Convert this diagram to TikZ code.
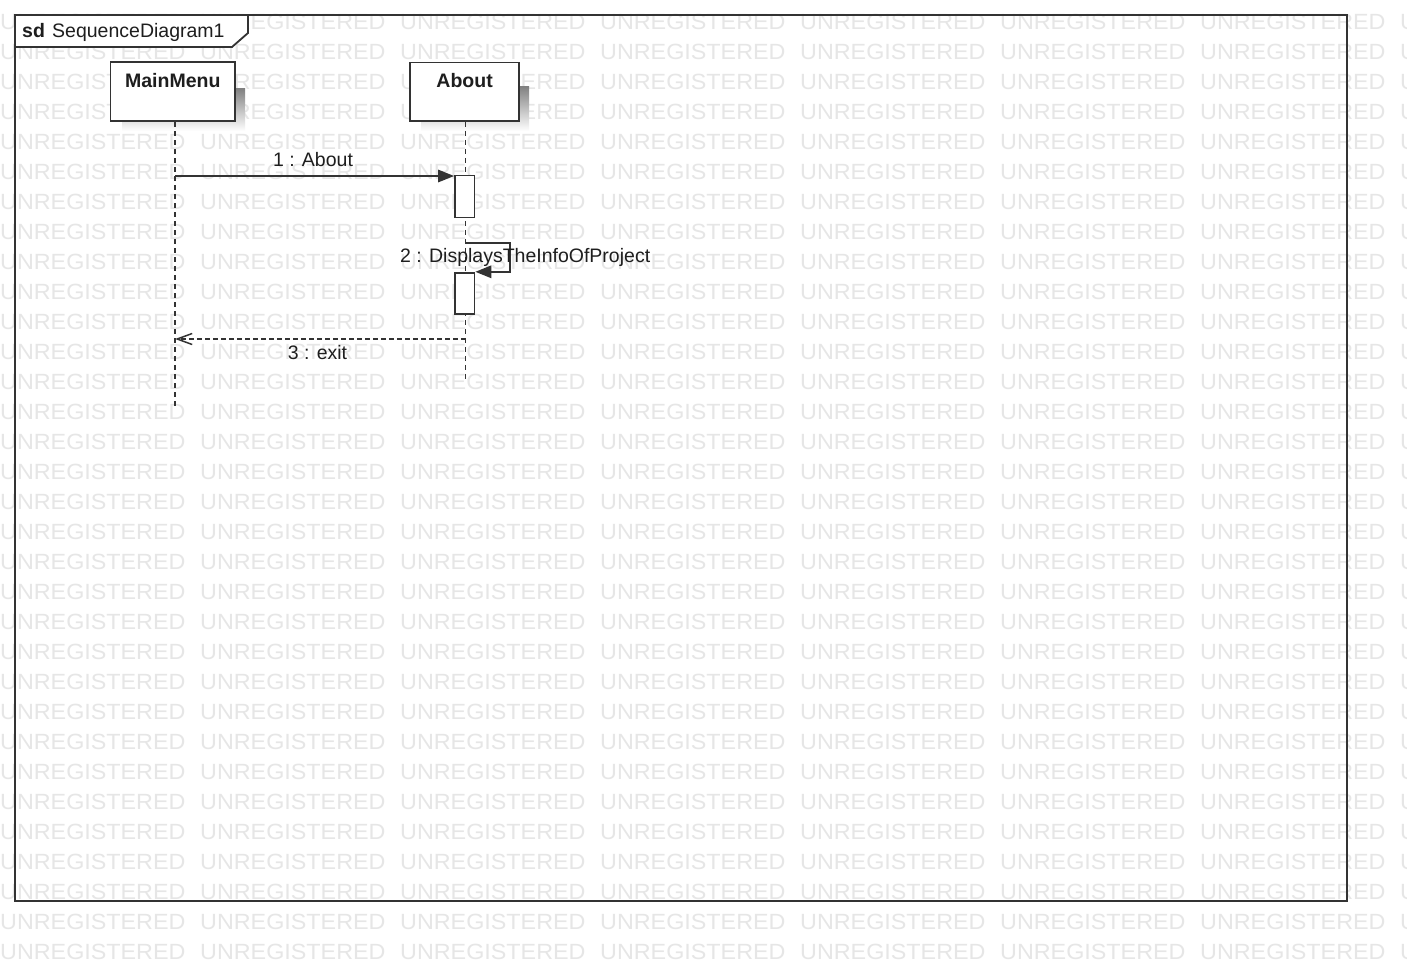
\documentclass[tikz,border=0pt]{standalone}
\usepackage{fontspec}
\usepackage{graphicx}
\setmainfont{Liberation Sans}
\usetikzlibrary{arrows.meta}

\definecolor{wmark}{HTML}{E6E6E6}
\definecolor{ink}{HTML}{333333}
\definecolor{txt}{HTML}{1E1E1E}
\definecolor{shade}{HTML}{F9F9F9}

\begin{document}
\begin{tikzpicture}[x=1pt,y=-1pt,
  wm/.style={inner sep=0pt, anchor=base west, text=wmark,
    font=\fontsize{22}{22}\selectfont},
  framebox/.style={draw=ink, line width=1.8pt},
  lifebox/.style={draw=ink, line width=1.8pt, fill=white, inner sep=0pt},
  boxtitle/.style={text=txt, font=\fontsize{19.5}{23}\selectfont\bfseries},
  lifeline/.style={draw=ink, line width=1.5pt, dash pattern=on 5pt off 4pt},
  actbox/.style={draw=ink, line width=1.8pt, fill=white, inner sep=0pt,
    minimum width=19.5pt},
  sync/.style={draw=ink, line width=1.6pt,
    -{Triangle[length=16pt, width=12.5pt]}},
  reply/.style={draw=ink, line width=1.5pt, dash pattern=on 5pt off 3pt,
    -{Straight Barb[length=15pt, width=11pt]}},
  msglabel/.style={inner sep=0pt, text=txt,
    font=\fontsize{19.5}{23}\selectfont},
]
\useasboundingbox (0,0) rectangle (1407,961);
\fill[white] (0,0) rectangle (1407,961);

% tiled background text
\foreach \r in {0,...,31}{
  \foreach \c in {0,...,7}{
    \node[wm] (wm-\r-\c) at ({200*\c},{29+30*\r})
      {\scalebox{1.06}[1]{UNREGISTERED}};
  }
}

% soft shadows behind the lifeline heads
\fill[shade] (122,88) rectangle (245,131);
\fill[shade] (421,86) rectangle (529,131);

% sequence frame with its name tab
\draw[framebox] (15,15) rectangle (1347,901);
\draw[framebox, fill=white] (15,15) -- (248,15) -- (248,33) -- (232,47)
  -- (15,47) -- cycle;
\node[msglabel, anchor=base west, font=\fontsize{19.5}{23}\selectfont\bfseries]
  (sdkw) at (22,37) {sd};
\node[msglabel, anchor=base west] (sdname) at (52,37) {SequenceDiagram1};

% lifeline heads
\node[lifebox, minimum width=124.5pt, minimum height=59pt] (mm) at (172.8,91.8) {};
\node[boxtitle] (mmt) at (172.8,81) {MainMenu};
\node[lifebox, minimum width=108.5pt, minimum height=58.5pt] (ab) at (464.6,91.8) {};
\node[boxtitle] (abt) at (464.6,81) {About};

% dashed lifelines
\coordinate (mmend) at (175,407);
\coordinate (abend) at (465.5,380);
\draw[lifeline] (mm.south -| mmend) -- (mmend);
\draw[lifeline] (ab.south -| abend) -- (abend);

% activation bars
\node[actbox, minimum height=42pt] (act1) at (464.7,196.4) {};
\node[actbox, minimum height=41.6pt] (act2) at (464.7,293.5) {};

% 1 : About
\coordinate (m1) at (175,176);
\draw[sync] (m1) -- (m1 -| act1.west);
\node[msglabel, anchor=base] (l1) at (313,166) {1 : About};

% 2 : self call
\coordinate (s2) at (465.5,243);
\coordinate (s2turn) at (510,243);
\draw[sync] (s2) -- (s2turn) -- (s2turn |- act2.north) -- (act2.north east);
\node[msglabel, anchor=base west] (l2) at (400,262) {2 : DisplaysTheInfoOfProject};

% 3 : exit (return)
\coordinate (r3) at (465.5,339);
\draw[reply] (r3) -- (r3 -| mmend);
\node[msglabel, anchor=base] (l3) at (317.5,359.5) {3 : exit};
\end{tikzpicture}
\end{document}
